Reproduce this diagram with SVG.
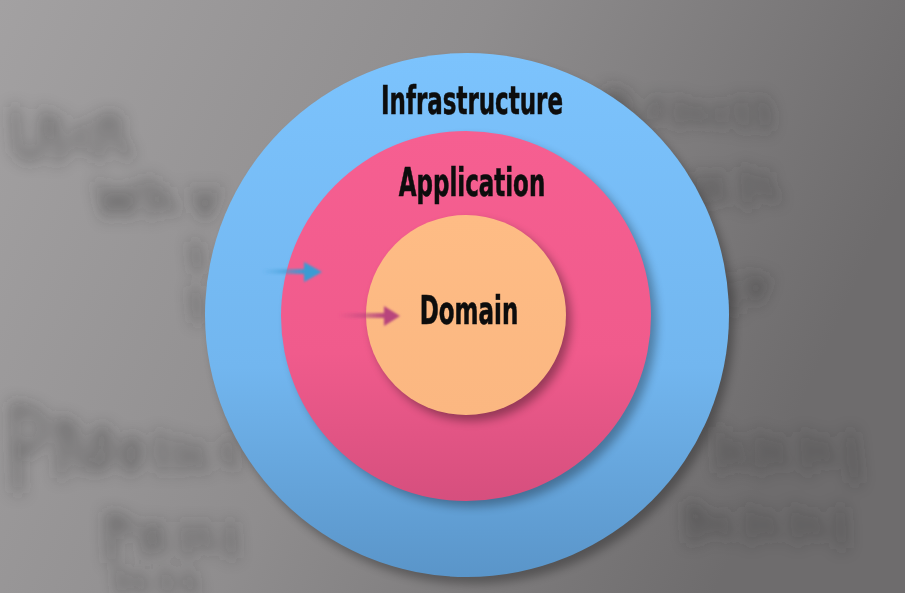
<svg xmlns="http://www.w3.org/2000/svg" width="905" height="593" viewBox="0 0 905 593">
<defs>
<linearGradient id="bg" x1="0" y1="0" x2="1" y2="0.3">
<stop offset="0" stop-color="#a3a1a2"/>
<stop offset="0.5" stop-color="#8f8d8e"/>
<stop offset="1" stop-color="#6e6c6d"/>
</linearGradient>
<linearGradient id="gBlue" x1="0" y1="0" x2="0" y2="1">
<stop offset="0" stop-color="#7cc3fd"/>
<stop offset="0.6" stop-color="#72b6ef"/>
<stop offset="1" stop-color="#5a95c9"/>
</linearGradient>
<linearGradient id="gPink" x1="0" y1="0" x2="0" y2="1">
<stop offset="0" stop-color="#f65f91"/>
<stop offset="0.6" stop-color="#f05b8c"/>
<stop offset="1" stop-color="#d64f7e"/>
</linearGradient>
<linearGradient id="gOrange" x1="0" y1="0" x2="0" y2="1">
<stop offset="0" stop-color="#febc85"/>
<stop offset="1" stop-color="#fbb781"/>
</linearGradient>
<linearGradient id="shBlue" x1="0" y1="0" x2="1" y2="0">
<stop offset="0" stop-color="#3a9bd3" stop-opacity="0"/>
<stop offset="1" stop-color="#3a9bd3"/>
</linearGradient>
<linearGradient id="shPink" x1="0" y1="0" x2="1" y2="0">
<stop offset="0" stop-color="#b8457c" stop-opacity="0"/>
<stop offset="1" stop-color="#b8457c"/>
</linearGradient>
<filter id="blur" x="-20%" y="-20%" width="140%" height="140%"><feGaussianBlur stdDeviation="8"/></filter>
<filter id="shadow" x="-20%" y="-20%" width="140%" height="140%"><feGaussianBlur stdDeviation="5"/></filter>
<filter id="soft" x="-20%" y="-50%" width="140%" height="200%"><feGaussianBlur stdDeviation="1.2"/></filter>
</defs>
<style>
.lbl{font-family:"Liberation Sans Narrow","DejaVu Sans Condensed","Liberation Sans",sans-serif;font-weight:bold;font-size:39px;fill:#0d0d0d;stroke:#0d0d0d;stroke-width:0.6;text-anchor:middle}
.scr{fill:none;stroke:#3a3a3a;stroke-width:7;stroke-linecap:round;stroke-linejoin:round;opacity:0.5}
</style>
<rect width="905" height="593" fill="url(#bg)"/>
<g filter="url(#blur)">
<path class="scr" d="M15 110 L18 150 Q30 165 42 150 L44 112 M60 118 Q48 125 58 138 Q70 150 56 160 M85 125 Q70 135 85 150 M100 120 L100 158 M100 120 Q125 110 115 135 L128 156"/>
<path class="scr" d="M100 185 L108 215 L118 190 L128 215 L136 185 M150 180 L152 215 M165 190 Q160 205 175 210 M195 190 L205 215 L215 190"/>
<path class="scr" d="M610 90 L612 125 M610 95 Q635 92 625 110 L640 125 M660 100 Q645 110 660 120 M680 100 L680 125 M700 105 Q690 118 705 122 M720 105 L722 125 M740 100 L745 128 M760 100 Q770 115 765 128"/>
<path class="scr" d="M700 175 L705 205 M720 175 Q710 190 725 200 M745 170 L748 205 M765 175 Q760 190 775 198"/>
<path class="scr" d="M730 280 L735 310 M750 275 L755 300 L765 280"/>
<path class="scr" d="M15 405 L18 490 M15 410 Q50 405 40 440 Q30 455 20 450 M60 420 L62 475 M60 425 Q80 420 75 445 L85 470 M100 430 Q88 450 100 470 Q115 455 105 430 M130 440 Q118 455 130 470 Q145 458 135 440 M160 435 L162 470 M180 440 L182 470 M200 445 Q190 460 205 468 M230 440 Q220 455 235 465"/>
<path class="scr" d="M110 515 L112 560 M110 520 Q135 515 125 535 M145 525 L147 555 M160 525 Q152 540 165 550 M185 525 L188 555 M205 525 Q198 540 212 548 M230 525 L232 555"/>
<path class="scr" d="M120 570 L122 593 M140 575 Q135 585 145 590 M165 572 L168 593 M190 575 Q182 585 195 590"/>
<path class="scr" d="M720 430 L722 470 M740 440 Q730 455 745 465 M760 435 L762 470 M780 440 Q772 455 785 465 M805 435 L808 470 M825 440 Q818 455 832 462 M850 435 L855 480"/>
<path class="scr" d="M690 505 L692 540 M690 508 Q715 515 705 535 M725 515 Q716 528 730 535 M750 510 L752 540 M770 515 Q762 528 776 535 M795 510 L798 540 M815 515 Q808 528 822 535 M840 510 L842 545"/>
<path class="scr" d="M195 245 L198 270 M195 290 L198 320"/>
</g>
<g id="infrastructure">
<circle cx="472" cy="322" r="262" fill="#000" opacity="0.3" filter="url(#shadow)"/>
<circle cx="467" cy="315" r="262" fill="url(#gBlue)"/>
<text class="lbl" x="472" y="114" transform="translate(472 0) scale(0.655 1) translate(-472 0)">Infrastructure</text>
</g>
<g id="application">
<circle cx="472" cy="322" r="185" fill="#000" opacity="0.3" filter="url(#shadow)"/>
<circle cx="466" cy="316" r="185" fill="url(#gPink)"/>
<text class="lbl" x="472" y="196" transform="translate(472 0) scale(0.655 1) translate(-472 0)">Application</text>
</g>
<g id="domain">
<circle cx="471" cy="321" r="100" fill="#000" opacity="0.35" filter="url(#shadow)"/>
<circle cx="466" cy="315" r="100" fill="url(#gOrange)"/>
<text class="lbl" x="469" y="324" transform="translate(469 0) scale(0.655 1) translate(-469 0)">Domain</text>
</g>
<g id="connectors">
<g filter="url(#soft)">
<rect x="262" y="269" width="44" height="5" fill="url(#shBlue)"/>
<polygon points="304,262 322,272 304,282" fill="#3a9bd3"/>
</g>
<g filter="url(#soft)">
<rect x="338" y="313" width="48" height="5" fill="url(#shPink)"/>
<polygon points="384,306 400,316 384,326" fill="#b8457c"/>
</g>
</g>
</svg>
